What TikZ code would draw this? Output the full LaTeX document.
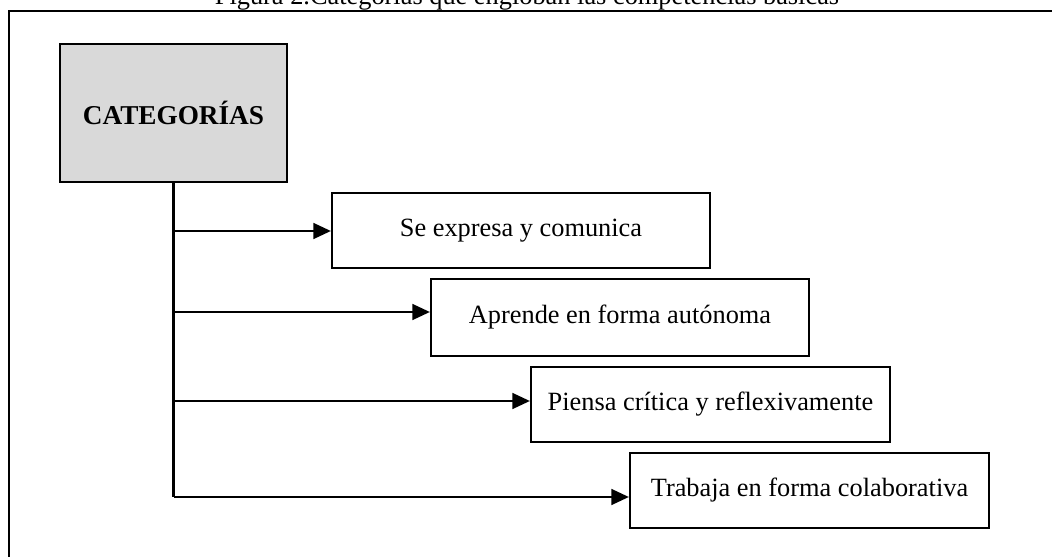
\documentclass[tikz,border=0pt]{standalone}
\usepackage{fontspec}
\setmainfont{Liberation Serif}
\usetikzlibrary{arrows.meta, positioning}

\tikzset{
    compbox/.style={draw, line width=1.3pt, minimum height=1.5cm, font=\fontsize{15}{18}\selectfont},
    branch/.style={line width=1.3pt, -{Triangle[length=10pt,width=9pt]}}
}

\begin{document}
\begin{tikzpicture}[x=0.02cm, y=-0.02cm]
\useasboundingbox (0,0) rectangle (1052,557);
\clip (0,0) rectangle (1052,557);

% Title (cut at the top)
\node[anchor=base, font=\fontsize{15}{18}\selectfont] (title) at (527,5) {Figura 2.Categorías  que engloban las competencias básicas};

% Frame
\draw[line width=1.4pt] (9,570) -- (9,11) -- (1070,11);

% Main box
\node[draw, line width=1.3pt, fill=gray!30, minimum width=4.54cm, minimum height=2.76cm,
      font=\fontsize{15.5}{19}\selectfont\bfseries] (cat) at (173.5,113) {CATEGORÍAS};

% Competence boxes
\node[compbox, minimum width=7.56cm] (b1) at (521,230.5) {Se expresa y comunica};
\node[compbox, minimum width=7.56cm, minimum height=1.54cm] (b2) at (620,317.5) {Aprende en forma autónoma};
\node[compbox, minimum width=7.18cm] (b3) at (710.5,404.5) {Piensa crítica y reflexivamente};
\node[compbox, minimum width=7.18cm] (b4) at (809.5,490.5) {Trabaja en forma colaborativa};

% Trunk and branches
\coordinate (t1) at (cat.south |- 0,231);
\coordinate (t2) at (cat.south |- 0,312);
\coordinate (t3) at (cat.south |- 0,401);
\coordinate (t4) at (cat.south |- 0,497);
\draw[line width=1.3pt] (cat.south) -- (t4);
\foreach \i in {1,2,3,4} {
    \draw[branch] (t\i) -- (t\i -| b\i.west);
}
\end{tikzpicture}
\end{document}
